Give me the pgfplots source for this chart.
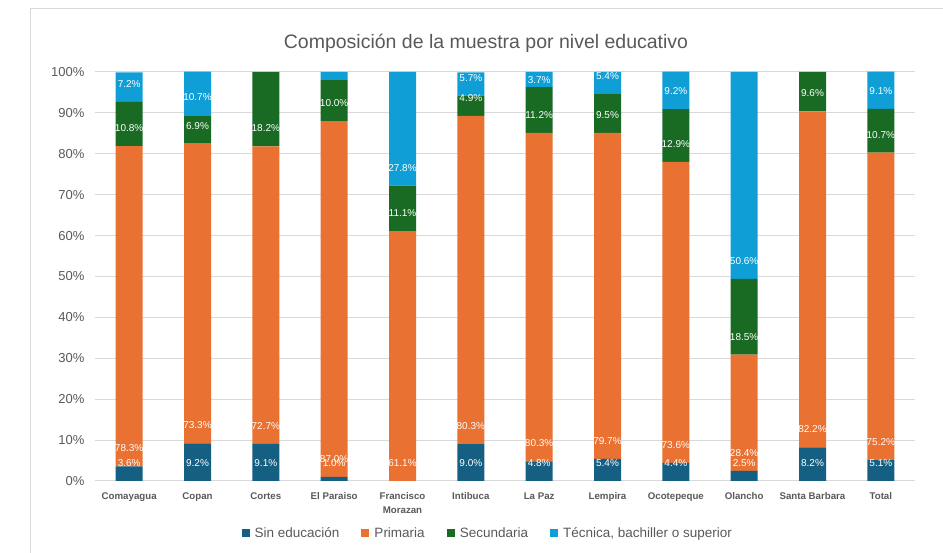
\documentclass[border=0pt]{standalone}
\usepackage{fontspec}
\setmainfont{Liberation Sans}
\usepackage{pgfplots}
\usepackage{pgfplotstable}
\pgfplotsset{compat=1.18}
\definecolor{csin}{HTML}{156082}
\definecolor{cpri}{HTML}{E97132}
\definecolor{csec}{HTML}{196B24}
\definecolor{ctec}{HTML}{0F9ED5}
\definecolor{ctxt}{HTML}{595959}
\definecolor{cgrid}{HTML}{D9D9D9}

% share of each education level per department (%)
\pgfplotstableread{
x v
0 3.6
1 9.2
2 9.1
3 1.0
4 0.0
5 9.0
6 4.8
7 5.4
8 4.4
9 2.5
10 8.2
11 5.1
}\sinedu
\pgfplotstableread{
x v
0 78.3
1 73.3
2 72.7
3 87.0
4 61.1
5 80.3
6 80.3
7 79.7
8 73.6
9 28.4
10 82.2
11 75.2
}\primaria
\pgfplotstableread{
x v
0 10.8
1 6.9
2 18.2
3 10.0
4 11.1
5 4.9
6 11.2
7 9.5
8 12.9
9 18.5
10 9.6
11 10.7
}\secundaria
\pgfplotstableread{
x v
0 7.2
1 10.7
2 0.0
3 2.0
4 27.8
5 5.7
6 3.7
7 5.4
8 9.2
9 50.6
10 0.0
11 9.1
}\tecnica
% data labels: category, base of the segment, offset above the base, label text
\pgfplotstableread{
x b a lab
0 0 4.4 3.6\%
1 0 4.4 9.2\%
2 0 4.4 9.1\%
3 0 4.4 1.0\%
5 0 4.4 9.0\%
6 0 4.4 4.8\%
7 0 4.4 5.4\%
8 0 4.4 4.4\%
9 0 4.4 2.5\%
10 0 4.4 8.2\%
11 0 4.4 5.1\%
0 3.6 4.4 78.3\%
1 9.2 4.4 73.3\%
2 9.1 4.4 72.7\%
3 1.0 4.4 87.0\%
4 0.0 4.4 61.1\%
5 9.0 4.4 80.3\%
6 4.8 4.4 80.3\%
7 5.4 4.4 79.7\%
8 4.4 4.4 73.6\%
9 2.5 4.4 28.4\%
10 8.2 4.4 82.2\%
11 5.1 4.4 75.2\%
0 81.9 4.4 10.8\%
1 82.5 4.4 6.9\%
2 81.8 4.4 18.2\%
3 88.0 4.4 10.0\%
4 61.1 4.4 11.1\%
5 89.3 4.4 4.9\%
6 85.1 4.4 11.2\%
7 85.1 4.4 9.5\%
8 78.0 4.4 12.9\%
9 30.9 4.4 18.5\%
10 90.4 4.4 9.6\%
11 80.3 4.4 10.7\%
0 92.7 4.4 7.2\%
1 89.4 4.4 10.7\%
4 72.2 4.4 27.8\%
5 94.2 4.4 5.7\%
6 96.3 1.7 3.7\%
7 94.6 4.4 5.4\%
8 90.9 4.4 9.2\%
9 49.4 4.4 50.6\%
11 91.0 4.4 9.1\%
}\labels

\begin{document}
\begin{tikzpicture}
\useasboundingbox (0pt,0pt) rectangle (943pt,553pt);
\draw[cgrid, line width=1pt] (30pt,0pt) -- (30pt,544pt) -- (943pt,544pt);
\node[font=\fontsize{19.5}{23}\selectfont, text=ctxt] at (486pt,510pt) {Composición de la muestra por nivel educativo};
\begin{axis}[
  at={(95pt,72pt)}, anchor=south west,
  scale only axis, width=820pt, height=409pt,
  ybar stacked, bar width=27pt,
  xmin=-0.5, xmax=11.5, ymin=0, ymax=100,
  enlargelimits=false,
  axis line style={draw=none},
  major tick length=0pt,
  ymajorgrids, grid style={cgrid, line width=1pt},
  ytick={0,10,...,100},
  yticklabels={0\%,10\%,20\%,30\%,40\%,50\%,60\%,70\%,80\%,90\%,100\%},
  yticklabel style={font=\fontsize{13}{15}\selectfont, text=ctxt, xshift=-7pt},
  xtick={0,...,11},
  xticklabels={Comayagua,Copan,Cortes,El Paraiso,{Francisco\\Morazan},Intibuca,La Paz,Lempira,Ocotepeque,Olancho,Santa Barbara,Total},
  xticklabel style={font=\fontsize{9.7}{14}\selectfont\bfseries, text=ctxt, align=center, anchor=north, yshift=-8pt},
  legend style={at={(0.479,-0.127)}, anchor=center, legend columns=4, draw=none, fill=none,
    font=\fontsize{13.5}{16}\selectfont, text=ctxt,
    /tikz/every even column/.append style={column sep=20pt},
    /tikz/every odd column/.append style={column sep=3pt}},
  legend image code/.code={\fill[#1] (0pt,-4pt) rectangle (8pt,4pt);},
]
\addplot[fill=csin, draw=none] table[x=x,y=v] {\sinedu};
\addplot[fill=cpri, draw=none] table[x=x,y=v] {\primaria};
\addplot[fill=csec, draw=none] table[x=x,y=v] {\secundaria};
\addplot[fill=ctec, draw=none] table[x=x,y=v] {\tecnica};
\legend{Sin educación,Primaria,Secundaria,{Técnica, bachiller o superior}}
\end{axis}
\begin{axis}[
  at={(95pt,72pt)}, anchor=south west,
  scale only axis, width=820pt, height=409pt,
  xmin=-0.5, xmax=11.5, ymin=0, ymax=100,
  enlargelimits=false, hide axis, clip=false,
]
\addplot[draw=none, mark=none, nodes near coords, point meta=explicit symbolic,
  nodes near coords align=center,
  every node near coord/.append style={font=\fontsize{10}{12}\selectfont, text=white, anchor=center, inner sep=0pt}]
  table[x=x, y expr=\thisrow{b}+\thisrow{a}, meta=lab] {\labels};
\end{axis}
\end{tikzpicture}
\end{document}
